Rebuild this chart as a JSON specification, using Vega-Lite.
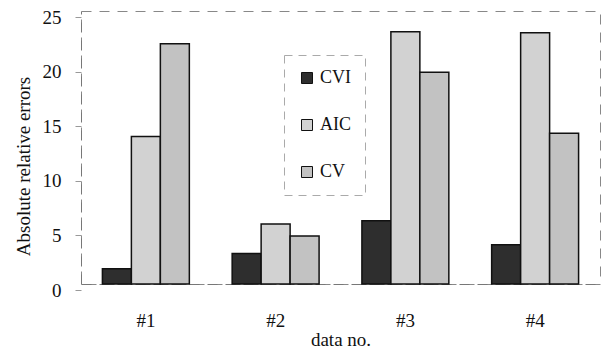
{
  "$schema": "https://vega.github.io/schema/vega-lite/v6.json",
  "width": 519,
  "height": 273,
  "autosize": {"type": "none"},
  "padding": {"left": 81, "top": 11, "right": 2, "bottom": 68},
  "background": "white",
  "data": {
    "values": [
      {"data": "#1", "method": "CVI", "error": 1.4},
      {"data": "#1", "method": "AIC", "error": 13.5},
      {"data": "#1", "method": "CV", "error": 22.0},
      {"data": "#2", "method": "CVI", "error": 2.8},
      {"data": "#2", "method": "AIC", "error": 5.5},
      {"data": "#2", "method": "CV", "error": 4.4},
      {"data": "#3", "method": "CVI", "error": 5.8},
      {"data": "#3", "method": "AIC", "error": 23.1},
      {"data": "#3", "method": "CV", "error": 19.4},
      {"data": "#4", "method": "CVI", "error": 3.6},
      {"data": "#4", "method": "AIC", "error": 23.0},
      {"data": "#4", "method": "CV", "error": 13.8}
    ]
  },
  "mark": {"type": "bar", "stroke": "#111", "strokeWidth": 1.5},
  "encoding": {
    "x": {
      "field": "data",
      "type": "nominal",
      "scale": {"paddingInner": 0.33, "paddingOuter": 0.165},
      "axis": {
        "title": "data no.",
        "labelAngle": 0,
        "labelPadding": 27,
        "ticks": false,
        "titlePadding": 0,
        "domainDash": [10, 8],
        "domainColor": "#777"
      }
    },
    "xOffset": {"field": "method", "type": "nominal", "sort": ["CVI", "AIC", "CV"], "scale": {"paddingInner": 0, "paddingOuter": 0}},
    "y": {
      "field": "error",
      "type": "quantitative",
      "scale": {"domain": [0, 25], "nice": false},
      "axis": {
        "title": "Absolute relative errors",
        "values": [0, 5, 10, 15, 20, 25],
        "grid": false,
        "ticks": true,
        "tickSize": 6,
        "tickColor": "#999",
        "tickOffset": 6,
        "labelPadding": 14,
        "titlePadding": 9,
        "titleY": 155,
        "domainDash": [10, 8],
        "domainColor": "#777"
      }
    },
    "fill": {
      "field": "method",
      "type": "nominal",
      "sort": ["CVI", "AIC", "CV"],
      "scale": {"domain": ["CVI", "AIC", "CV"], "range": ["#2e2e2e", "#d2d2d2", "#c2c2c2"]},
      "legend": {
        "title": null,
        "orient": "none",
        "legendX": 203,
        "legendY": 44,
        "symbolType": "square",
        "symbolSize": 121,
        "symbolStrokeColor": "#111",
        "symbolStrokeWidth": 1,
        "labelFontSize": 18,
        "labelFont": "Liberation Serif",
        "labelColor": "#111",
        "labelOffset": 4,
        "rowPadding": 29,
        "padding": 14,
        "strokeColor": "#aaa",
        "encode": {"legend": {"update": {"strokeDash": {"value": [8, 6]}}}}
      }
    }
  },
  "config": {
    "font": "Liberation Serif",
    "view": {"stroke": "#888", "strokeDash": [10, 8], "strokeWidth": 1},
    "axis": {
      "labelFont": "Liberation Serif",
      "titleFont": "Liberation Serif",
      "labelFontSize": 19,
      "titleFontSize": 19,
      "titleFontWeight": "normal",
      "labelColor": "#111",
      "titleColor": "#111"
    }
  }
}
